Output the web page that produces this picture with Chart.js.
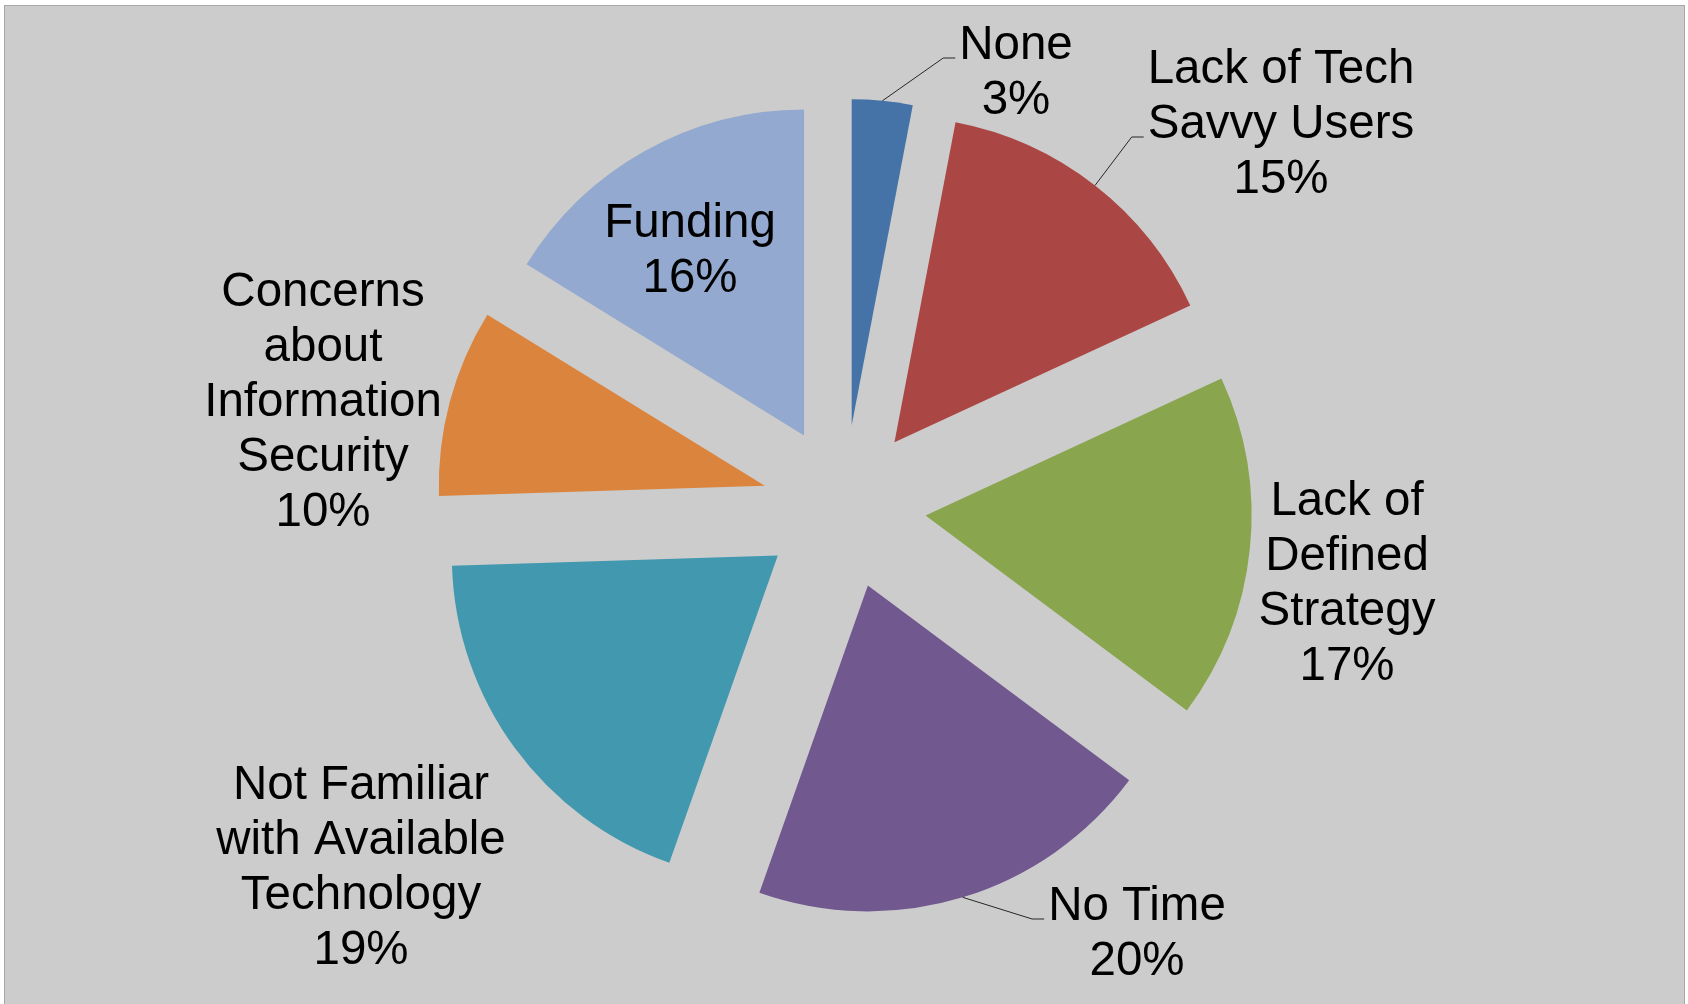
<!DOCTYPE html>
<html>
<head>
<meta charset="utf-8">
<script src="https://cdn.jsdelivr.net/npm/chart.js@4.4.0/dist/chart.umd.min.js"></script>
<style>
  html, body { margin: 0; padding: 0; background: #fff; }
  body { position: relative; width: 1688px; height: 1004px; overflow: hidden; }
  #frame { position: absolute; left: 4px; top: 5px; width: 1679px; height: 1010px;
           border: 1px solid #a8a8a8; background: #cccccc; }
  #pie { position: absolute; left: 0; top: 0; }
</style>
</head>
<body>
<div id="frame"></div>
<canvas id="pie" width="1688" height="1004"></canvas>
<script>
    "use strict";

    // data
    var categories = ["None", "Lack of Tech Savvy Users", "Lack of Defined Strategy", "No Time",
                      "Not Familiar with Available Technology", "Concerns about Information Security", "Funding"];
    var labelLines = [
        ["None"],
        ["Lack of Tech", "Savvy Users"],
        ["Lack of", "Defined", "Strategy"],
        ["No Time"],
        ["Not Familiar", "with Available", "Technology"],
        ["Concerns", "about", "Information", "Security"],
        ["Funding"]
    ];
    var sliceShares = [3.0, 15.1, 17.1, 20.2, 19.1, 9.3, 16.2];
    var percentLabels = [3, 15, 17, 20, 19, 10, 16];
    var sliceColors = ['#4573a8', '#aa4644', '#89a54e', '#71588f', '#4198af', '#db843d', '#93a9cf'];

    //* label layout (first baseline relative to pie centre, leader line attaches to line n)
    var labelPos = [
        { dx: 172,  dy: -448, leader: 0 },
        { dx: 437,  dy: -424, leader: 1 },
        { dx: 503,  dy: 8 },
        { dx: 293,  dy: 413,  leader: 0 },
        { dx: -483, dy: 292 },
        { dx: -521, dy: -201 },
        { dx: -154, dy: -270 }
    ];
    var EXPLODE = 82;
    var LINE_H = 55;
    var FONT = '47.5px "Liberation Sans", Arial, sans-serif';

    var explodedPie = {
        id: 'explodedPie',
        beforeDatasetDraw: function(chart, args) {
            var ctx = chart.ctx;
            args.meta.data.forEach(function(arc) {
                var mid = (arc.startAngle + arc.endAngle) / 2;
                ctx.save();
                ctx.translate(Math.cos(mid) * EXPLODE, Math.sin(mid) * EXPLODE);
                arc.draw(ctx);
                ctx.restore();
            });
            return false;
        },
        afterDatasetsDraw: function(chart) {
            var ctx = chart.ctx;
            var arcs = chart.getDatasetMeta(0).data;
            ctx.save();
            ctx.font = FONT;
            ctx.fillStyle = '#000';
            ctx.textAlign = 'center';
            ctx.textBaseline = 'alphabetic';
            arcs.forEach(function(arc, i) {
                var pos = labelPos[i];
                var lines = labelLines[i].concat([percentLabels[i] + '%']);
                var x = arc.x + pos.dx;
                var y0 = arc.y + pos.dy;
                lines.forEach(function(t, k) {
                    ctx.fillText(t, x, y0 + k * LINE_H);
                });
                if (pos.leader !== undefined) {
                    var mid = (arc.startAngle + arc.endAngle) / 2;
                    var r = arc.outerRadius + EXPLODE;
                    var sx = arc.x + Math.cos(mid) * r;
                    var sy = arc.y + Math.sin(mid) * r;
                    var w = ctx.measureText(lines[pos.leader]).width;
                    var ex = x - w / 2 - 4;
                    var ey = y0 + pos.leader * LINE_H - 1;
                    ctx.beginPath();
                    ctx.moveTo(sx, sy);
                    ctx.lineTo(ex - 12, ey);
                    ctx.lineTo(ex, ey);
                    ctx.strokeStyle = '#262626';
                    ctx.lineWidth = 1;
                    ctx.stroke();
                }
            });
            ctx.restore();
        }
    };

    var ctx = document.getElementById('pie').getContext('2d');
    var pieChart = new Chart(ctx, {
        type: 'pie',
        data: {
            labels: categories,
            datasets: [{
                data: sliceShares,
                backgroundColor: sliceColors,
                borderWidth: 0
            }]
        },
        options: {
            responsive: false,
            animation: false,
            devicePixelRatio: 1,
            events: [],
            radius: 326,
            layout: { padding: { left: 0, right: 0, top: 10, bottom: 0 } },
            plugins: {
                legend: { display: false },
                tooltip: { enabled: false }
            }
        },
        plugins: [explodedPie]
    });
</script>
</body>
</html>
